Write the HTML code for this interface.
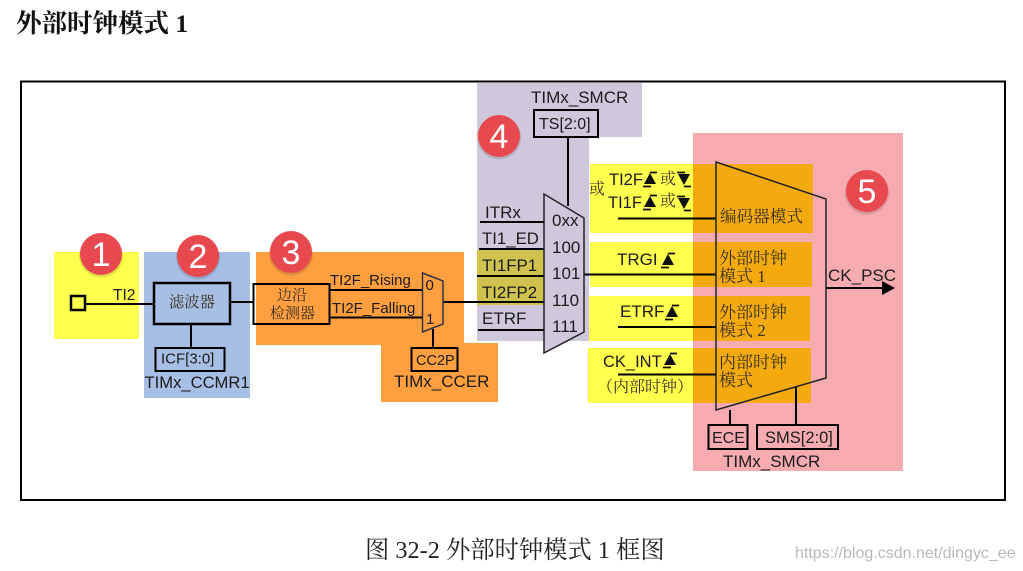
<!DOCTYPE html>
<html><head><meta charset="utf-8"><style>
html,body{margin:0;padding:0;background:#fff}
svg{display:block}
.s{font-family:"Liberation Sans",sans-serif;fill:#1a1a1a}
.c{font-family:"Liberation Serif","Noto Serif CJK SC",serif;fill:#333}
.n{font-family:"Liberation Sans",sans-serif;fill:#fff;font-size:34px;text-anchor:middle}
</style></head><body>
<svg width="1023" height="571" viewBox="0 0 1023 571" xmlns="http://www.w3.org/2000/svg">
<defs>
<filter id="b" x="-5%" y="-5%" width="110%" height="110%"><feGaussianBlur stdDeviation="0.35"/></filter>
<g id="up"><path d="M-6 5L0 -6L6 5Z" fill="#111"/><path d="M-7 7.500H1M0 -6.500H7" stroke="#111" stroke-width="1.800" fill="none"/></g>
<g id="dn"><path d="M-6 -5L0 6L6 -5Z" fill="#111"/><path d="M-7 -6.500H1M0 7.500H7" stroke="#111" stroke-width="1.800" fill="none"/></g>
</defs>
<rect width="1023" height="571" fill="#fff"/>
<text x="16" y="32" font-size="25.500" font-weight="700" style="font-family:'Liberation Serif','Noto Serif CJK SC',serif" fill="#111">外部时钟模式 1</text>
<rect x="21" y="81.500" width="984" height="418.500" fill="#fff" stroke="#000" stroke-width="2"/>
<g filter="url(#b)">
<rect x="54" y="252" width="85" height="87" fill="#ffff4d"/>
<rect x="144" y="252" width="106" height="146" fill="#a7bfe4"/>
<rect x="256" y="252" width="208" height="93" fill="#ff9f3f"/>
<rect x="381" y="343" width="117" height="59" fill="#ff9f3f"/>
<rect x="477" y="83" width="165" height="54" fill="#cfc8dc"/>
<rect x="477" y="83" width="112" height="258" fill="#cfc8dc"/>
<rect x="477" y="250" width="69" height="55" fill="#cfc250"/>
<rect x="693" y="133" width="210" height="338" fill="#f5abb0"/>
<rect x="590" y="164" width="103" height="69" fill="#ffff4d"/><rect x="693" y="164" width="120" height="69" fill="#f4aa10"/>
<rect x="590" y="242" width="103" height="45" fill="#ffff4d"/><rect x="693" y="242" width="119" height="45" fill="#f4aa10"/>
<rect x="589" y="296" width="104" height="45" fill="#ffff4d"/><rect x="693" y="296" width="117" height="45" fill="#f4aa10"/>
<rect x="588" y="348" width="105" height="55" fill="#ffff4d"/><rect x="693" y="348" width="118" height="55" fill="#f4aa10"/>

<g fill="none" stroke="#000" stroke-width="2">
<rect x="71" y="296" width="14" height="14" stroke-width="2.500"/>
<path d="M85 304H154M230 302H253M191 324V348"/>
<rect x="154" y="283" width="76" height="41" stroke-width="2.500"/>
<rect x="155.500" y="348" width="69" height="23"/>
<rect x="253.500" y="284" width="76" height="40"/>
<path d="M330 290H423M330 317.500H423M443 302H544M433 329V348"/>
<rect x="411.500" y="348" width="46" height="23"/>
<rect x="534" y="110" width="64" height="27"/>
<path d="M568 137V206M480 222H544M479 249H544M477 276H544M470 302H544M478 330H544"/>
<path d="M584 274.500H716M618 218.500H716M618 327H716M618 374.500H716M730 410V425M796 387V425M826 288H884" />
<rect x="708.500" y="425" width="39" height="24"/>
<rect x="757" y="425" width="81" height="24"/>
</g>
<path d="M422.500 273L443 281V324L422.500 332Z" fill="#ff9f3f" stroke="#334" stroke-width="1.500"/>
<path d="M544 194L584 218V332L544 353Z" fill="#cfc8dc" stroke="#222" stroke-width="1.500"/>
<path d="M716 162L826 199V378L716 410Z" fill="none" stroke="#222" stroke-width="1.500"/>
<path d="M882 281L895 288L882 295Z" fill="#000"/>

<g class="s" font-size="15">
<text x="113" y="300" font-size="15.500">TI2</text>
<text x="161" y="363.500">ICF[3:0]</text>
<text x="144.500" y="388" font-size="16.600">TIMx_CCMR1</text>
<text x="330" y="285">TI2F_Rising</text>
<text x="332" y="313">TI2F_Falling</text>
<text x="425.500" y="290">0</text><text x="426" y="324">1</text>
<text x="416" y="365" font-size="14.500">CC2P</text>
<text x="394" y="387" font-size="17">TIMx_CCER</text>
<text x="531" y="103" font-size="17">TIMx_SMCR</text>
<text x="539" y="129" font-size="16">TS[2:0]</text>
<text x="485" y="218" font-size="17">ITRx</text>
<text x="482" y="244" font-size="16.800">TI1_ED</text>
<text x="482" y="271" font-size="16.800">TI1FP1</text>
<text x="482" y="298" font-size="16.800">TI2FP2</text>
<text x="482" y="324" font-size="17">ETRF</text>
<g font-size="17">
<text x="552" y="226">0xx</text><text x="552" y="253">100</text><text x="552" y="279">101</text><text x="552" y="306">110</text><text x="552" y="332">111</text>
</g>
<text x="609" y="185" font-size="16.500">TI2F</text>
<text x="608" y="208" font-size="16.500">TI1F</text>
<text x="617" y="265" font-size="17">TRGI</text>
<text x="620" y="317" font-size="17">ETRF</text>
<text x="603" y="367" font-size="16.500">CK_INT</text>
<text x="828" y="281" font-size="17">CK_PSC</text>
<text x="712" y="443" font-size="16">ECE</text>
<text x="765" y="443" font-size="16.500">SMS[2:0]</text>
<text x="723" y="467" font-size="17">TIMx_SMCR</text>
</g>
<use href="#up" x="650" y="179"/><use href="#dn" x="684" y="179"/>
<use href="#up" x="650" y="202"/><use href="#dn" x="684" y="203"/>
<use href="#up" x="668" y="260"/><use href="#up" x="672" y="312"/><use href="#up" x="670" y="360"/>

<g class="c" style="fill:#3a3020">
<text x="169" y="307" font-size="15.300">滤波器</text>
<text x="277" y="300" font-size="15">边沿</text>
<text x="270" y="318" font-size="15">检测器</text>
<text x="589" y="194" font-size="16">或</text>
<text x="660" y="184" font-size="16">或</text>
<text x="660" y="206" font-size="16">或</text>
<text x="720" y="222" font-size="16.600">编码器模式</text>
<text x="719" y="264" font-size="17">外部时钟</text>
<text x="719" y="282" font-size="17">模式 1</text>
<text x="719" y="318" font-size="17">外部时钟</text>
<text x="719" y="336" font-size="17">模式 2</text>
<text x="719" y="368" font-size="17">内部时钟</text>
<text x="719" y="386" font-size="17">模式</text>
<text x="597" y="392" font-size="16">（内部时钟）</text>
</g>
<g fill="#000" opacity="0.12">
<circle cx="101" cy="255.500" r="22"/><circle cx="198" cy="257.500" r="22"/><circle cx="291" cy="253.500" r="22"/><circle cx="499" cy="137.500" r="22"/><circle cx="867" cy="192.500" r="22"/>
</g>
<g fill="#e84a4f">
<circle cx="101" cy="254" r="21"/><circle cx="198" cy="256" r="21"/><circle cx="291" cy="252" r="21"/><circle cx="499" cy="136" r="21"/><circle cx="867" cy="191" r="21"/>
</g>
<text class="n" x="101" y="266">1</text><text class="n" x="198" y="268">2</text><text class="n" x="291" y="264">3</text><text class="n" x="499" y="148">4</text><text class="n" x="867" y="203">5</text>
</g>
<text x="365" y="558" font-size="24.300" style="font-family:'Liberation Serif','Noto Serif CJK SC',serif" fill="#222">图 32-2 外部时钟模式 1 框图</text>
<text x="795" y="558" font-size="16" style="font-family:'Liberation Sans',sans-serif" fill="#b8b8b8">https://blog.csdn.net/dingyc_ee</text>
</svg>
</body></html>
